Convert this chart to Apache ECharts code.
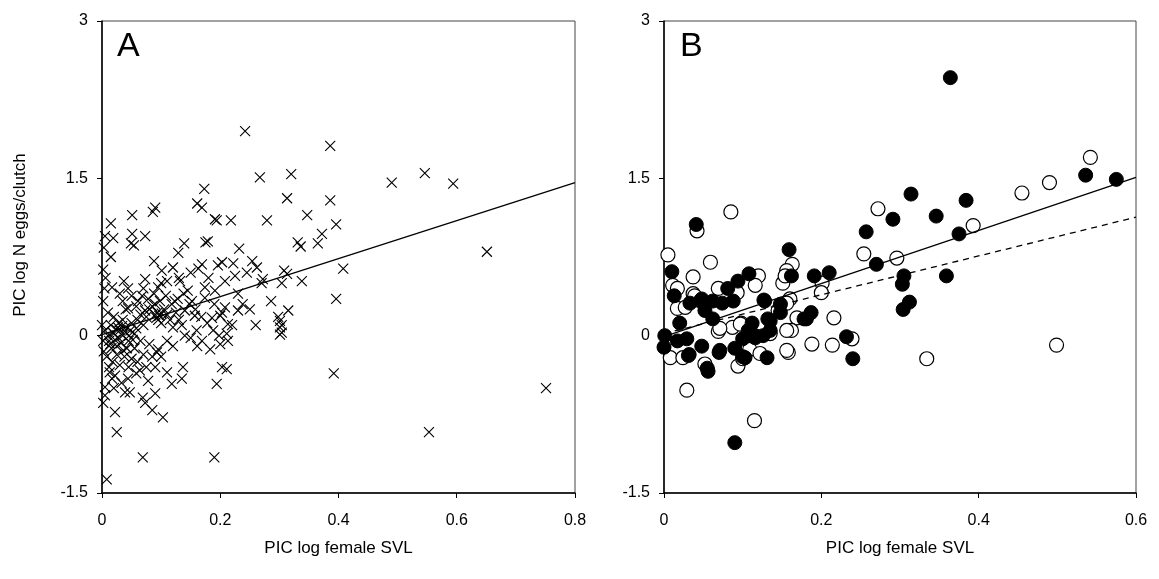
<!DOCTYPE html>
<html><head><meta charset="utf-8">
<script src="https://cdn.jsdelivr.net/npm/echarts@6/dist/echarts.min.js"></script>
<style>html,body{margin:0;padding:0;background:#fff}#c{width:1159px;height:579px}</style>
</head><body><div id="c"></div>
<script>
const yTicks = [-1.5, 0, 1.5, 3];
const xTicksA = [0, 0.2, 0.4, 0.6, 0.8];
const xTicksB = [0, 0.2, 0.4, 0.6];

const pointsA = [
[0.242,1.95],[0.386,1.81],[0.267,1.51],[0.32,1.54],[0.313,1.31],[0.386,1.29],[0.49,1.46],[0.546,1.55],[0.594,1.45],[0.651,0.80],[0.751,-0.50],[0.553,-0.92],[0.392,-0.36],[0.408,0.64],[0.396,0.35],[0.396,1.06],[0.347,1.15],
[0.173,1.40],[0.161,1.26],[0.169,1.22],[0.191,1.11],[0.194,1.1],[0.218,1.1],[0.279,1.1],
[0.051,1.15],[0.086,1.18],[0.09,1.22],[0.015,1.07],[0.005,0.95],[0.019,0.93],[0.051,0.97],[0.049,0.88],[0.054,0.86],[0.073,0.95],[0.003,0.84],
[0.179,0.9],[0.175,0.89],[0.139,0.88],[0.129,0.79],[0.232,0.83],[0.331,0.89],[0.336,0.85],[0.365,0.88],[0.372,0.97],
[0.015,0.75],[0.088,0.71],[0.169,0.68],[0.163,0.64],[0.101,0.62],[0.002,0.63],[0.12,0.65],[0.196,0.67],[0.203,0.7],[0.222,0.69],[0.254,0.71],[0.262,0.65],[0.308,0.62],[0.313,0.59],
[0.037,0.52],[0.073,0.54],[0.11,0.52],[0.132,0.52],[0.272,0.54],[0.338,0.52],[0.304,0.5],[0.225,0.57],[0.208,0.52],
[0.017,0.46],[0.044,0.45],[0.095,0.46],[0.145,0.43],[0.174,0.46],[0.191,0.43],
[0.002,0.33],[0.035,0.33],[0.061,0.33],[0.09,0.3],[0.123,0.33],[0.152,0.33],[0.174,0.36],[0.286,0.33],
[0.044,0.26],[0.073,0.24],[0.101,0.21],[0.14,0.24],[0.157,0.19],[0.186,0.17],[0.203,0.22],[0.238,0.3],[0.23,0.24],[0.208,0.27],[0.315,0.24],[0.298,0.18],[0.304,0.1],[0.304,0.03],[0.213,0.11],[0.2,0.19],
[0.22,0.1],[0.211,0.02],[0.213,-0.05],[0.2,-0.08],[0.301,0.14],[0.301,0.08],[0.301,0.01],[0.211,-0.32],[0.194,-0.46],[0.19,-1.16],
[0.022,-0.73],[0.025,-0.92],[0.069,-1.16],[0.008,-1.37],[0.078,-0.43],[0.11,-0.35],[0.137,-0.3],[0.118,-0.46],[0.135,-0.41],[0.039,-0.54],[0.047,-0.54],[0.069,-0.59],[0.09,-0.55],[0.073,-0.64],[0.085,-0.71],[0.103,-0.78],[0.005,-0.57],[0.002,-0.64],[0.044,-0.41],[0.017,-0.41],[0.022,-0.38],[0.005,-0.49],[0.095,-0.13],[0.093,-0.16],[0.14,0],[0.161,-0.1],[0.169,-0.05],[0.183,-0.13],[0.203,-0.3],[0.135,0.1],
[0.005,0.05],[0.01,0.0],[0.012,-0.05],[0.015,0.1],[0.02,0.02],[0.025,-0.1],[0.03,0.05],[0.035,0.0],[0.04,0.08],[0.045,-0.05],[0.05,0.12],[0.055,0.02],[0.06,0.15],[0.065,0.2],[0.07,0.1],[0.075,0.18],[0.08,0.25],[0.085,0.28],[0.09,0.2],[0.095,0.15],[0.1,0.12],[0.105,0.25],[0.11,0.2],[0.115,0.15],[0.12,0.08],[0.125,0.22],[0.13,0.15],
[0.003,-0.15],[0.008,-0.2],[0.012,-0.3],[0.018,-0.25],[0.025,-0.18],[0.03,-0.28],[0.038,-0.2],[0.045,-0.3],[0.05,-0.22],[0.055,-0.12],[0.06,-0.25],[0.065,-0.05],[0.07,-0.18],[0.075,-0.3],[0.08,-0.08],[0.085,-0.2],
[0.02,0.18],[0.01,0.22],[0.035,0.15],[0.04,0.25],[0.028,0.12],[0.048,0.05],[0.058,0.28],[0.068,0.38],[0.078,0.35],[0.088,0.4],[0.098,0.33],[0.108,0.38],[0.118,0.3],[0.128,0.35],[0.138,0.4],[0.148,0.3],[0.158,0.25],[0.168,0.18],[0.178,0.12],[0.188,0.05],[0.198,0.0],[0.16,0.05],[0.15,-0.02],[0.12,-0.1],[0.11,-0.05],[0.1,-0.2],[0.09,-0.3],[0.013,-0.35],[0.0,0.1],[0.002,-0.05],
[0.004,0.45],[0.006,0.55],[0.03,0.4],[0.05,0.38],[0.07,0.45],[0.1,0.5],[0.13,0.55],[0.15,0.6],[0.18,0.55],[0.19,0.3],[0.25,0.25],[0.26,0.1],[0.27,0.5],[0.23,0.4],[0.245,0.6],
[0.018,0.03],[0.022,-0.04],[0.027,0.08],[0.032,-0.07],[0.038,0.04],[0.042,-0.12],[0.016,-0.12],[0.028,-0.02],[0.034,0.09],[0.046,0.0],[0.024,0.06],[0.014,-0.08],[0.036,-0.14],[0.052,-0.04],[0.058,0.07],[0.092,0.17],[0.097,0.19],[0.094,0.22],[0.064,-0.33],[0.058,-0.36],[0.02,-0.5],[0.033,-0.45]
];

const filledB = [
[0.364,2.46],[0.536,1.53],[0.575,1.49],[0.314,1.35],[0.384,1.29],[0.346,1.14],[0.291,1.11],[0.375,0.97],[0.305,0.57],[0.303,0.49],[0.359,0.57],[0.312,0.32],[0.304,0.25],
[0.257,0.99],[0.27,0.68],[0.159,0.82],[0.162,0.57],[0.191,0.57],[0.21,0.6],[0.187,0.22],[0.181,0.16],[0.232,-0.01],[0.24,-0.22],
[0.041,1.06],[0.01,0.61],[0.013,0.38],[0.02,0.12],[0.001,0.0],[0.0,-0.11],[0.017,-0.05],[0.029,-0.03],[0.032,-0.18],[0.048,-0.1],[0.056,-0.34],[0.07,-0.16],[0.033,0.31],[0.048,0.35],[0.062,0.33],[0.074,0.31],[0.081,0.45],[0.094,0.52],[0.108,0.59],[0.088,0.33],[0.052,0.24],[0.062,0.16],[0.112,0.12],[0.107,0.05],[0.1,-0.03],[0.09,-0.12],[0.1,-0.2],[0.116,0.0],[0.126,0.0],[0.131,-0.21],[0.135,0.14],[0.127,0.34],[0.148,0.3],[0.178,0.16],[0.09,-1.02],[0.046,0.33],[0.116,-0.02],[0.132,0.16],[0.135,0.05],[0.148,0.22],[0.103,-0.21],[0.071,-0.14],[0.031,-0.19],[0.055,-0.31],[0.128,0.33]
];

const openB = [
[0.542,1.7],[0.49,1.46],[0.455,1.36],[0.393,1.05],[0.296,0.74],[0.334,-0.22],[0.499,-0.09],[0.272,1.21],[0.254,0.78],[0.163,0.68],[0.201,0.5],[0.2,0.41],[0.16,0.35],[0.169,0.17],[0.216,0.17],[0.162,0.05],[0.239,-0.03],[0.188,-0.08],[0.214,-0.09],[0.158,-0.16],
[0.005,0.77],[0.059,0.7],[0.037,0.56],[0.011,0.48],[0.017,0.26],[0.008,-0.21],[0.024,-0.21],[0.052,-0.27],[0.029,-0.52],[0.069,0.04],[0.037,0.4],[0.12,0.57],[0.069,0.45],[0.093,0.41],[0.087,0.08],[0.098,0.12],[0.094,-0.29],[0.109,-0.13],[0.122,-0.17],[0.135,0.02],[0.145,0.24],[0.156,0.62],[0.151,0.5],[0.156,-0.14],[0.115,-0.81],[0.042,1.0],[0.085,1.18],[0.154,0.57],[0.116,0.48],[0.039,0.38],[0.027,0.27],[0.071,0.07],[0.097,0.11],[0.156,0.31],[0.156,0.05],[0.1,-0.22],[0.017,0.45]
];

const fitA = [[0, 0.01], [0.8, 1.46]];
const fitBSolid = [[0, -0.01], [0.6, 1.51]];
const fitBDashed = [[0, 0.02], [0.6, 1.13]];

const FONT = 'Liberation Sans';
const chart = echarts.init(document.getElementById('c'), null, {renderer: 'canvas'});

function xAxis(gi, max) {
  return {
    type: 'value', gridIndex: gi, min: 0, max: max, interval: 0.2,
    name: 'PIC log female SVL', nameLocation: 'middle', nameGap: 47,
    nameTextStyle: {fontFamily: FONT, fontSize: 17, color: '#000'},
    axisLine: {onZero: false, lineStyle: {color: '#000', width: 1.5}},
    axisTick: {show: true, length: 5, inside: false, lineStyle: {color: '#000', width: 1}},
    axisLabel: {fontFamily: FONT, fontSize: 16, color: '#000', margin: 20},
    splitLine: {show: false}
  };
}
function yAxis(gi) {
  return {
    type: 'value', gridIndex: gi, min: -1.5, max: 3, interval: 1.5,
    axisLine: {show: true, onZero: false, lineStyle: {color: '#000', width: 1.5}},
    axisTick: {show: true, length: 5, inside: false, lineStyle: {color: '#000', width: 1}},
    axisLabel: {fontFamily: FONT, fontSize: 16, color: '#000', margin: 14},
    splitLine: {show: false}
  };
}

const crossPath = 'path://M0,0L10,10M10,0L0,10';

chart.setOption({
  animation: false,
  backgroundColor: '#fff',
  grid: [
    {left: 102, top: 21, width: 473, height: 472, show: true, borderColor: '#444', borderWidth: 1, backgroundColor: 'transparent'},
    {left: 664, top: 21, width: 472, height: 472, show: true, borderColor: '#444', borderWidth: 1, backgroundColor: 'transparent'}
  ],
  xAxis: [xAxis(0, 0.8), xAxis(1, 0.6)],
  yAxis: [yAxis(0), yAxis(1)],
  graphic: [
    {type: 'text', left: 117, top: 30, style: {text: 'A', font: '34px "Liberation Sans"', fill: '#000'}},
    {type: 'text', left: 680, top: 30, style: {text: 'B', font: '34px "Liberation Sans"', fill: '#000'}},
    {type: 'text', x: 20, y: 235, rotation: Math.PI / 2, style: {text: 'PIC log N eggs/clutch', font: '17px "Liberation Sans"', fill: '#000', align: 'center', verticalAlign: 'middle'}}
  ],
  series: [
    {type: 'scatter', xAxisIndex: 0, yAxisIndex: 0, data: pointsA, symbol: crossPath, symbolSize: 10,
     itemStyle: {color: 'rgba(0,0,0,0)', borderColor: '#000', borderWidth: 1.1, opacity: 1}, z: 2},
    {type: 'line', xAxisIndex: 0, yAxisIndex: 0, data: fitA, showSymbol: false, symbol: 'none',
     lineStyle: {color: '#000', width: 1.3}, z: 3},
    {type: 'scatter', xAxisIndex: 1, yAxisIndex: 1, data: openB, symbol: 'circle', symbolSize: 14,
     itemStyle: {color: '#fff', borderColor: '#000', borderWidth: 1.2, opacity: 1}, z: 2},
    {type: 'scatter', xAxisIndex: 1, yAxisIndex: 1, data: filledB, symbol: 'circle', symbolSize: 14,
     itemStyle: {color: '#000', borderColor: '#000', borderWidth: 1, opacity: 1}, z: 3},
    {type: 'line', xAxisIndex: 1, yAxisIndex: 1, data: fitBSolid, showSymbol: false, symbol: 'none',
     lineStyle: {color: '#000', width: 1.3}, z: 4},
    {type: 'line', xAxisIndex: 1, yAxisIndex: 1, data: fitBDashed, showSymbol: false, symbol: 'none',
     lineStyle: {color: '#000', width: 1.3, type: [6, 5]}, z: 4}
  ]
});
</script>
</body></html>
